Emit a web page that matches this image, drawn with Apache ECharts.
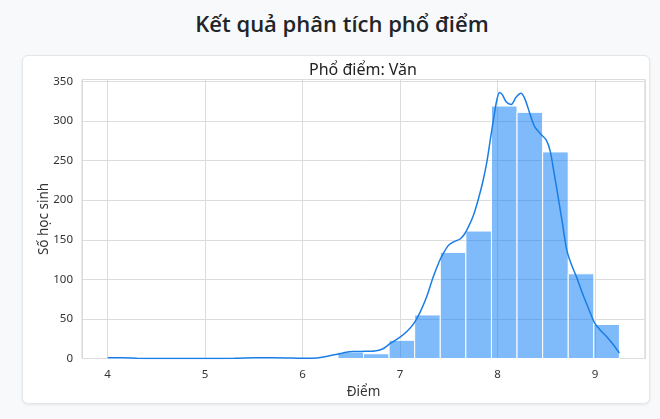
<!DOCTYPE html>
<html><head><meta charset="utf-8">
<script src="https://cdn.jsdelivr.net/npm/echarts@6/dist/echarts.min.js"></script>
<style>
html,body{margin:0;padding:0;background:#f8f9fa;width:660px;height:419px;overflow:hidden;font-family:'Open Sans','Noto Sans',sans-serif;}
#title{position:absolute;left:28px;width:628px;top:7px;text-align:center;font-size:22px;font-weight:600;color:#212529;line-height:32px;font-family:'Open Sans','Noto Sans',sans-serif;}
#card{position:absolute;left:22px;top:55px;width:628px;height:349px;background:#fff;border:1px solid #e3e6ea;border-radius:6px;box-shadow:0 1px 3px rgba(0,0,0,0.08);box-sizing:border-box;}
#chart{position:absolute;left:0;top:0;width:626px;height:347px;}
</style></head>
<body>
<div id="title">Kết quả phân tích phổ điểm</div>
<div id="card"><div id="chart"></div></div>
<script>
const chartTitle = 'Phổ điểm: Văn';
const xAxisName = 'Điểm';
const yAxisName = 'Số học sinh';
const xTicks = [4, 5, 6, 7, 8, 9];
const yTicks = [0, 50, 100, 150, 200, 250, 300, 350];
const binEdges = [4.0, 4.2625, 4.525, 4.7875, 5.05, 5.3125, 5.575, 5.8375, 6.1, 6.3625, 6.625,
                  6.8875, 7.15, 7.4125, 7.675, 7.9375, 8.2, 8.4625, 8.725, 8.9875, 9.25];
const binCounts = [1, 0, 0, 0, 0, 0, 1, 0, 0, 8, 6, 23, 55, 134, 161, 319, 311, 261, 107, 43];
const kdeX = [4.0, 4.15, 4.3, 4.5, 5.0, 5.3, 5.5, 5.7, 5.9, 6.0, 6.1, 6.2, 6.3, 6.38, 6.45, 6.52, 6.6, 6.74, 6.82,
              6.9, 7.0, 7.07, 7.14, 7.2, 7.27, 7.34, 7.4, 7.445, 7.49, 7.53, 7.58, 7.616, 7.66, 7.7, 7.75, 7.8,
              7.85, 7.89, 7.93, 7.96, 7.99, 8.02, 8.05, 8.09, 8.14, 8.19, 8.24, 8.28, 8.33, 8.38, 8.44, 8.5,
              8.54, 8.575, 8.62, 8.66, 8.71, 8.76, 8.81, 8.86, 8.91, 8.96, 9.0, 9.06, 9.12, 9.19, 9.25];
const kdeY = [1.0, 0.8, 0.3, 0, 0, 0.2, 0.9, 1.1, 0.7, 0.2, 0.3, 1.5, 4, 6, 8, 8.8, 9, 9.5, 12,
              19, 27, 34, 44, 57, 77, 103, 122, 133, 142, 146, 149, 151, 157, 166, 180, 200,
              224, 248, 280, 303, 325, 336, 333, 324, 321, 330, 335, 328, 310, 293, 284, 276,
              262, 238, 205, 175, 137, 118, 103, 86, 70, 55, 44, 35, 27.5, 17, 7];

const histData = binCounts.map((c, i) => [binEdges[i], binEdges[i + 1], c]);
const kdeData = kdeX.map((x, i) => [x, kdeY[i]]);

const chart = echarts.init(document.getElementById('chart'));
const txt = '#333333';
chart.setOption({
  animation: false,
  textStyle: { fontFamily: 'Noto Sans' },
  title: {
    text: chartTitle, left: 281, top: 1,
    textStyle: { fontSize: 16, fontWeight: 'normal', color: '#222', fontFamily: 'Noto Sans' }
  },
  grid: { left: 59, top: 23.5, right: 4, bottom: 44.5, show: true, borderColor: '#cfcfcf', borderWidth: 1,
          containLabel: false, outerBoundsMode: 'none' },
  xAxis: {
    type: 'value', min: 3.7375, max: 9.5125,
    name: xAxisName, nameLocation: 'middle', nameGap: 21,
    nameTextStyle: { fontSize: 13.5, color: txt },
    axisLine: { show: false }, axisTick: { show: false },
    axisLabel: { margin: 10, fontSize: 11.5, color: txt, showMinLabel: false, showMaxLabel: false,
      formatter: v => xTicks.includes(v) ? String(v) : '' },
    splitLine: { show: true, lineStyle: { color: '#dcdcdc', width: 1 } }
  },
  yAxis: {
    type: 'value', min: 0, max: 352.5, interval: 50,
    name: yAxisName, nameLocation: 'middle', nameGap: 31, nameRotate: 90, nameMoveOverlap: false,
    nameTextStyle: { fontSize: 13.5, color: txt },
    axisLine: { show: false }, axisTick: { show: false },
    axisLabel: { margin: 9, fontSize: 11.5, color: txt,
      formatter: v => yTicks.includes(v) ? String(v) : '' },
    splitLine: { show: true, lineStyle: { color: '#dcdcdc', width: 1 } }
  },
  series: [
    {
      type: 'custom',
      data: histData,
      encode: { x: [0, 1], y: 2 },
      renderItem: (params, api) => {
        const p0 = api.coord([api.value(0), api.value(2)]);
        const p1 = api.coord([api.value(1), 0]);
        return {
          type: 'rect',
          shape: { x: p0[0], y: p0[1], width: p1[0] - p0[0], height: p1[1] - p0[1] },
          style: { fill: 'rgba(0,120,245,0.5)', stroke: '#ffffff', lineWidth: 1 }
        };
      },
      z: 2
    },
    {
      type: 'line',
      data: kdeData,
      smooth: 0.3,
      symbol: 'none',
      lineStyle: { color: '#1a7de6', width: 1.5 },
      z: 3
    }
  ]
});
</script>
</body></html>
